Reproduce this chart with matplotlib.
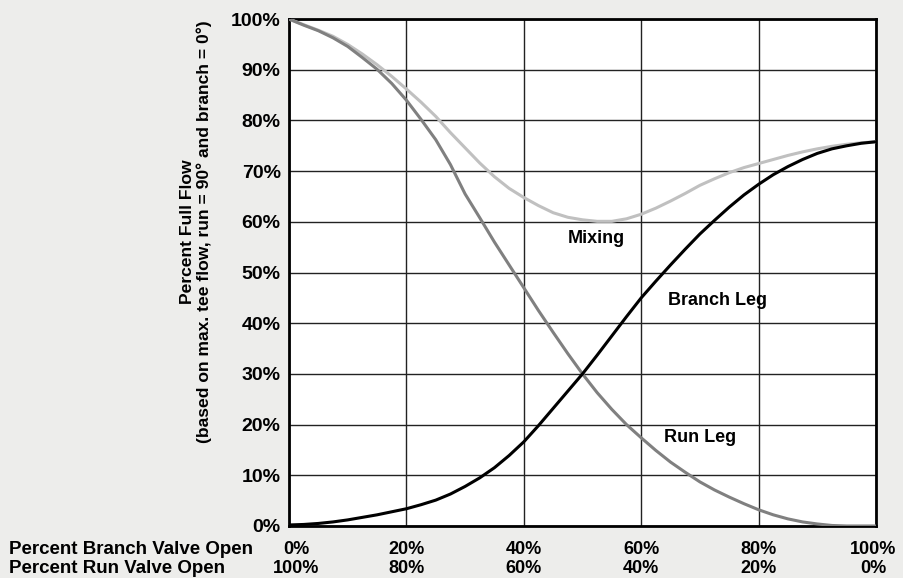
import matplotlib
matplotlib.use("Agg")
import matplotlib.pyplot as plt
import matplotlib.transforms as mtransforms

# percent branch valve open (x positions of read values)
valve_pct = [0, 2.5, 5, 7.5, 10, 12.5, 15, 17.5, 20, 22.5, 25, 27.5, 30, 32.5, 35, 37.5,
             40, 42.5, 45, 47.5, 50, 52.5, 55, 57.5, 60, 62.5, 65, 67.5, 70, 72.5, 75,
             77.5, 80, 82.5, 85, 87.5, 90, 92.5, 95, 97.5, 100]

branch_leg = [0.2, 0.3, 0.5, 0.8, 1.2, 1.7, 2.2, 2.8, 3.4, 4.2, 5.1, 6.3, 7.8, 9.5, 11.5,
              13.9, 16.6, 19.8, 23.2, 26.6, 30.0, 33.7, 37.5, 41.3, 45.0, 48.3, 51.5,
              54.6, 57.6, 60.3, 62.9, 65.3, 67.4, 69.3, 70.9, 72.3, 73.5, 74.4, 75.0,
              75.5, 75.8]
run_leg = [100, 98.8, 97.7, 96.3, 94.6, 92.4, 90.1, 87.3, 84.0, 80.2, 76.2, 71.3, 65.5,
           60.8, 56.0, 51.5, 47.0, 42.5, 38.2, 34.0, 30.0, 26.3, 23.0, 20.0, 17.4, 14.9,
           12.6, 10.6, 8.7, 7.1, 5.7, 4.4, 3.2, 2.2, 1.4, 0.8, 0.4, 0.1, 0.0, 0.0, 0.0]
mixing = [100, 98.9, 97.8, 96.6, 95.0, 93.1, 91.0, 88.7, 86.2, 83.6, 80.8, 77.6, 74.6,
          71.6, 68.9, 66.6, 64.8, 63.2, 61.8, 60.9, 60.4, 60.1, 60.1, 60.6, 61.5, 62.7,
          64.1, 65.6, 67.2, 68.5, 69.7, 70.7, 71.5, 72.3, 73.1, 73.8, 74.4, 74.9, 75.3,
          75.6, 75.8]

branch_ticks = [0, 20, 40, 60, 80, 100]
run_ticks = [100, 80, 60, 40, 20, 0]
y_ticks = [0, 10, 20, 30, 40, 50, 60, 70, 80, 90, 100]

bg = "#ededeb"
plt.rcParams['font.family'] = ['Liberation Sans', 'DejaVu Sans']

fig = plt.figure(figsize=(9.04, 5.78), dpi=100, facecolor=bg)
ax = fig.add_axes([0.3197, 0.09, 0.6493, 0.877])
ax.set_facecolor("white")

line_kw = dict(lw=2.2, solid_joinstyle="round", solid_capstyle="round")
ax.plot(valve_pct, mixing, color="#c0c0c0", zorder=3, **line_kw)
ax.plot(valve_pct, run_leg, color="#808080", zorder=3, **line_kw)
ax.plot(valve_pct, branch_leg, color="black", zorder=4, **line_kw)

ax.set_xlim(0, 100)
ax.set_ylim(0, 100)
ax.set_xticks(branch_ticks)
ax.set_xticklabels([])
ax.set_yticks(y_ticks)
ax.set_yticklabels([f"{v}%" for v in y_ticks], fontsize=14, fontweight="bold")
ax.tick_params(length=0, pad=6)
ax.grid(True, color="#222222", lw=1.0)
ax.set_axisbelow(True)
for s in ax.spines.values():
    s.set_linewidth(2)
    s.set_color("black")

# two rows of x labels: branch valve on top, run valve below
row_y = [0.050, 0.0156]
trans = mtransforms.blended_transform_factory(ax.transData, fig.transFigure)
for i, (b, r) in enumerate(zip(branch_ticks, run_ticks)):
    t = trans
    if i == 0:
        t = trans + mtransforms.ScaledTranslation(7 / 100, 0, fig.dpi_scale_trans)
    elif i == len(branch_ticks) - 1:
        t = trans + mtransforms.ScaledTranslation(-3 / 100, 0, fig.dpi_scale_trans)
    fig.text(b, row_y[0], f"{b}%", transform=t, ha="center", va="center",
             fontsize=13, fontweight="bold")
    fig.text(b, row_y[1], f"{r}%", transform=t, ha="center", va="center",
             fontsize=13, fontweight="bold")

fig.text(0.010, row_y[0], "Percent Branch Valve Open", fontsize=13.5, fontweight="bold",
         va="center")
fig.text(0.010, row_y[1], "Percent Run Valve Open", fontsize=13.5, fontweight="bold",
         va="center")

# y axis title (two lines)
fig.text(0.217, 0.60, "Percent Full Flow\n(based on max. tee flow, run = 90\u00b0 and branch = 0\u00b0)",
         rotation=90, ha="center", va="center", fontsize=12.6, fontweight="bold",
         linespacing=1.15)

# curve labels
ax.text(52.3, 56.8, "Mixing", fontsize=13, fontweight="bold", ha="center", va="center")
ax.text(73.0, 44.4, "Branch Leg", fontsize=13, fontweight="bold", ha="center", va="center")
ax.text(70.0, 17.4, "Run Leg", fontsize=13, fontweight="bold", ha="center", va="center")

fig.savefig("out.png", dpi=100, facecolor=bg)
